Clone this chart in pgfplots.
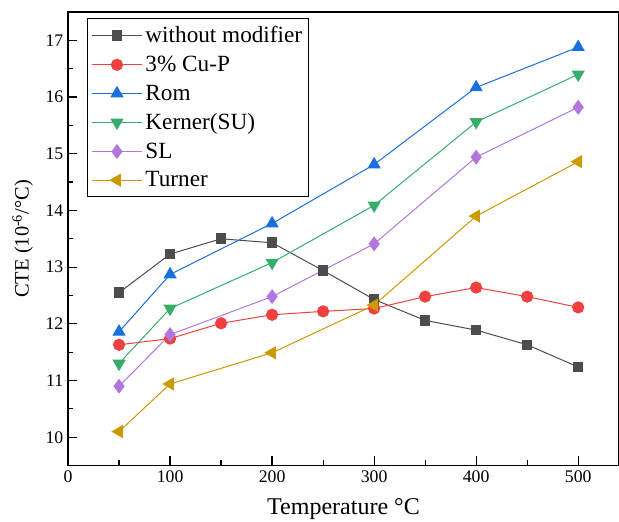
\documentclass[border=0pt]{standalone}
\usepackage{fontspec}
\setmainfont{Liberation Serif}
\usepackage{pgfplots}
\pgfplotsset{compat=1.18}
\definecolor{cblack}{HTML}{4D4D4D}
\definecolor{cred}{HTML}{F0403F}
\definecolor{cblue}{HTML}{1A6FDF}
\definecolor{cgreen}{HTML}{37AD6B}
\definecolor{cpurple}{HTML}{B177DE}
\definecolor{cgold}{HTML}{CC9900}
\begin{document}
\begin{tikzpicture}
\begin{axis}[
  width=413pt, height=340pt, scale only axis,
  xmin=0, xmax=540, ymin=9.5, ymax=17.5,
  xtick={0,100,...,500}, minor xtick={50,150,...,450},
  ytick={10,...,17}, minor ytick={10.5,11.5,...,16.5},
  tick align=inside, tick pos=left,
  major tick length=7pt, minor tick length=4pt,
  every tick/.style={black, line width=0.9pt},
  axis line style={line width=1.1pt},
  /pgf/number format/assume math mode=true,
  ticklabel style={font=\fontsize{13.3}{15}\selectfont},
  xlabel={Temperature °C},
  ylabel={CTE (10\textsuperscript{-6}/°C)},
  xlabel style={font=\fontsize{18}{20}\selectfont, yshift=-5.5pt},
  ylabel style={font=\fontsize{15.3}{17}\selectfont, yshift=2.5pt},
  legend style={at={(0,1)}, anchor=north west, xshift=14pt, yshift=-4.5pt,
    draw=black, line width=0.6pt, font=\fontsize{17.4}{19}\selectfont,
    row sep=4.5pt, inner ysep=4pt, inner xsep=3pt},
  legend cell align=left,
  legend image code/.code={\draw[mark repeat=2,mark phase=2] plot coordinates {(0pt,0pt) (19pt,0pt) (38pt,0pt)};},
  every axis plot/.append style={line width=0.75pt},
]
\addplot[cblack, mark=square*, mark size=3.6pt, mark options={fill=cblack, draw=cblack}] coordinates {
(50,12.55) (100,13.23) (150,13.50) (200,13.43) (250,12.94) (300,12.43) (350,12.06) (400,11.89) (450,11.63) (500,11.24)};
\addlegendentry{without modifier}
\addplot[cred, mark=*, mark size=4.2pt, mark options={fill=cred, draw=cred}] coordinates {
(50,11.63) (100,11.74) (150,12.01) (200,12.16) (250,12.22) (300,12.27) (350,12.48) (400,12.64) (450,12.48) (500,12.29)};
\addlegendentry{3\% Cu-P}
\addplot[cblue, mark=triangle*, mark size=5pt, mark options={fill=cblue, draw=cblue}] coordinates {
(50,11.86) (100,12.87) (200,13.77) (300,14.81) (400,16.17) (500,16.88)};
\addlegendentry{Rom}
\addplot[cgreen, mark=triangle*, mark size=5pt, mark options={fill=cgreen, draw=cgreen, rotate=180}] coordinates {
(50,11.30) (100,12.27) (200,13.08) (300,14.09) (400,15.56) (500,16.40)};
\addlegendentry{Kerner(SU)}
\addplot[cpurple, mark=diamond*, mark size=5pt, mark options={fill=cpurple, draw=cpurple}] coordinates {
(50,10.90) (100,11.81) (200,12.48) (300,13.41) (400,14.94) (500,15.82)};
\addlegendentry{SL}
\addplot[cgold, mark=triangle*, mark size=5pt, mark options={fill=cgold, draw=cgold, rotate=90}] coordinates {
(50,10.10) (100,10.94) (200,11.49) (300,12.33) (400,13.90) (500,14.86)};
\addlegendentry{Turner}
\end{axis}
\pgfresetboundingbox
\path (current axis.south west) +(-51pt,-42pt) (current axis.north east) +(0pt,9pt);
\end{tikzpicture}
\end{document}
